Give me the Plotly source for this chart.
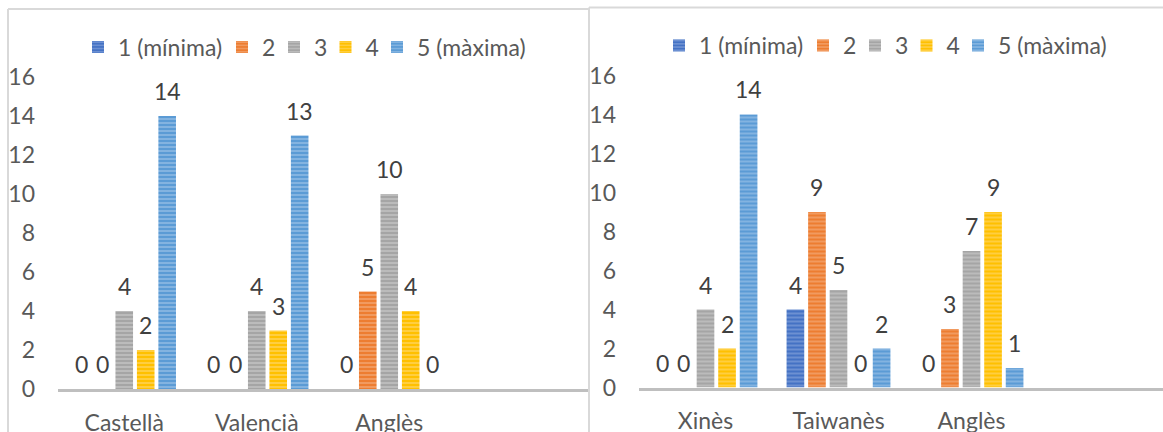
import plotly.graph_objects as go

# ---------------- data ----------------
series_names = ["1 (mínima)", "2", "3", "4", "5 (màxima)"]

left_categories = ["Castellà", "Valencià", "Anglès"]
left_s1 = [0, 0, 0]
left_s2 = [0, 0, 5]
left_s3 = [4, 4, 10]
left_s4 = [2, 3, 4]
left_s5 = [14, 13, 0]

right_categories = ["Xinès", "Taiwanès", "Anglès"]
right_s1 = [0, 4, 0]
right_s2 = [0, 9, 3]
right_s3 = [4, 5, 7]
right_s4 = [2, 0, 9]
right_s5 = [14, 2, 1]

y_ticks = [0, 2, 4, 6, 8, 10, 12, 14, 16]

# ---------------- styles ----------------
base_colors = ["#4472C4", "#ED7D31", "#A5A5A5", "#FFC000", "#5B9BD5"]
stripe_colors = ["#9DB5E3", "#F7BE96", "#D6D6D6", "#FFE18F", "#B3D1EE"]
FONT = "Lato"
FS = 23
W, H = 1163, 432
BARGAP = 0.19
BARGROUPGAP = 0.18
# legend marker centres (pixels) for the left chart; right chart is shifted
legend_marker_px = [96, 240, 292, 343.5, 395]
RIGHT_SHIFT_X = 581

left_series = [left_s1, left_s2, left_s3, left_s4, left_s5]
right_series = [right_s1, right_s2, right_s3, right_s4, right_s5]


def px_x(p):
    return p / W


def px_y(p):
    return 1 - p / H


fig = go.Figure()
legend_layouts = {}


def legend_key(n):
    return "legend" if n == 1 else f"legend{n}"


def add_chart(series, xa, ya, legend_start, shift_x, legend_y):
    for j, vals in enumerate(series):
        lk = legend_key(legend_start + j)
        fig.add_trace(go.Bar(
            x=list(range(len(vals))), y=vals, name=series_names[j],
            xaxis=xa, yaxis=ya, legend=lk, showlegend=True,
            marker=dict(color=base_colors[j], line=dict(width=0),
                        pattern=dict(shape="-", size=4, solidity=0.45,
                                     bgcolor=base_colors[j],
                                     fgcolor=stripe_colors[j])),
            hoverinfo="skip",
        ))
        legend_layouts[lk] = dict(
            orientation="h", x=px_x(legend_marker_px[j] + shift_x - 18),
            y=px_y(legend_y), xanchor="left", yanchor="middle",
            bgcolor="rgba(0,0,0,0)",
            font=dict(family=FONT, size=FS, color="#595959"))
    pitch = (1 - BARGAP) / len(series)
    for j, vals in enumerate(series):
        for i, v in enumerate(vals):
            fig.add_annotation(
                x=i + (j - (len(series) - 1) / 2) * pitch, y=v,
                xref=xa, yref=ya, text=str(v), showarrow=False,
                yanchor="bottom", yshift=9,
                font=dict(family=FONT, size=FS, color="#404040"))


add_chart(left_series, "x", "y", 1, 0, 47)
add_chart(right_series, "x2", "y2", 6, RIGHT_SHIFT_X, 45.5)

axis_common = dict(showgrid=False, zeroline=False, automargin=False)
fig.update_layout(
    width=W, height=H,
    margin=dict(l=0, r=0, t=0, b=0, pad=0),
    paper_bgcolor="white", plot_bgcolor="white",
    showlegend=True,
    barmode="group", bargap=BARGAP, bargroupgap=BARGROUPGAP,
    font=dict(family=FONT, size=FS, color="#595959"),
    xaxis=dict(domain=[px_x(58), px_x(588)], range=[-0.5, 3.5],
               tickvals=[0, 1, 2], ticktext=left_categories,
               showline=True, linecolor="#BFBFBF", linewidth=3,
               ticks="", ticklabelstandoff=11, anchor="y", **axis_common),
    yaxis=dict(domain=[px_y(389), px_y(77)], range=[0, 16],
               tickvals=y_ticks, showline=False, ticks="",
               ticklabelstandoff=22, anchor="x", **axis_common),
    xaxis2=dict(domain=[px_x(639), 1.0], range=[-0.5, -0.5 + (W - 639) / 133],
                tickvals=[0, 1, 2], ticktext=right_categories,
                showline=True, linecolor="#BFBFBF", linewidth=3,
                ticks="", ticklabelstandoff=11, anchor="y2", **axis_common),
    yaxis2=dict(domain=[px_y(387.5), px_y(75.5)], range=[0, 16],
                tickvals=y_ticks, showline=False, ticks="",
                ticklabelstandoff=22, anchor="x2", **axis_common),
    **legend_layouts,
)

# chart frames
border = dict(color="#D9D9D9", width=2)
fig.add_shape(type="line", xref="paper", yref="paper",
              x0=px_x(8), x1=px_x(8), y0=px_y(9), y1=px_y(440), line=border)
fig.add_shape(type="line", xref="paper", yref="paper",
              x0=px_x(8), x1=px_x(589), y0=px_y(9), y1=px_y(9), line=border)
fig.add_shape(type="line", xref="paper", yref="paper",
              x0=px_x(589), x1=px_x(589), y0=px_y(7.5), y1=px_y(440), line=border)
fig.add_shape(type="line", xref="paper", yref="paper",
              x0=px_x(589), x1=px_x(1170), y0=px_y(7.5), y1=px_y(7.5), line=border)

fig.write_html("out.html", config={"displayModeBar": False},
               post_script="document.body.style.margin='0';"
                           "document.body.style.overflow='hidden';")
